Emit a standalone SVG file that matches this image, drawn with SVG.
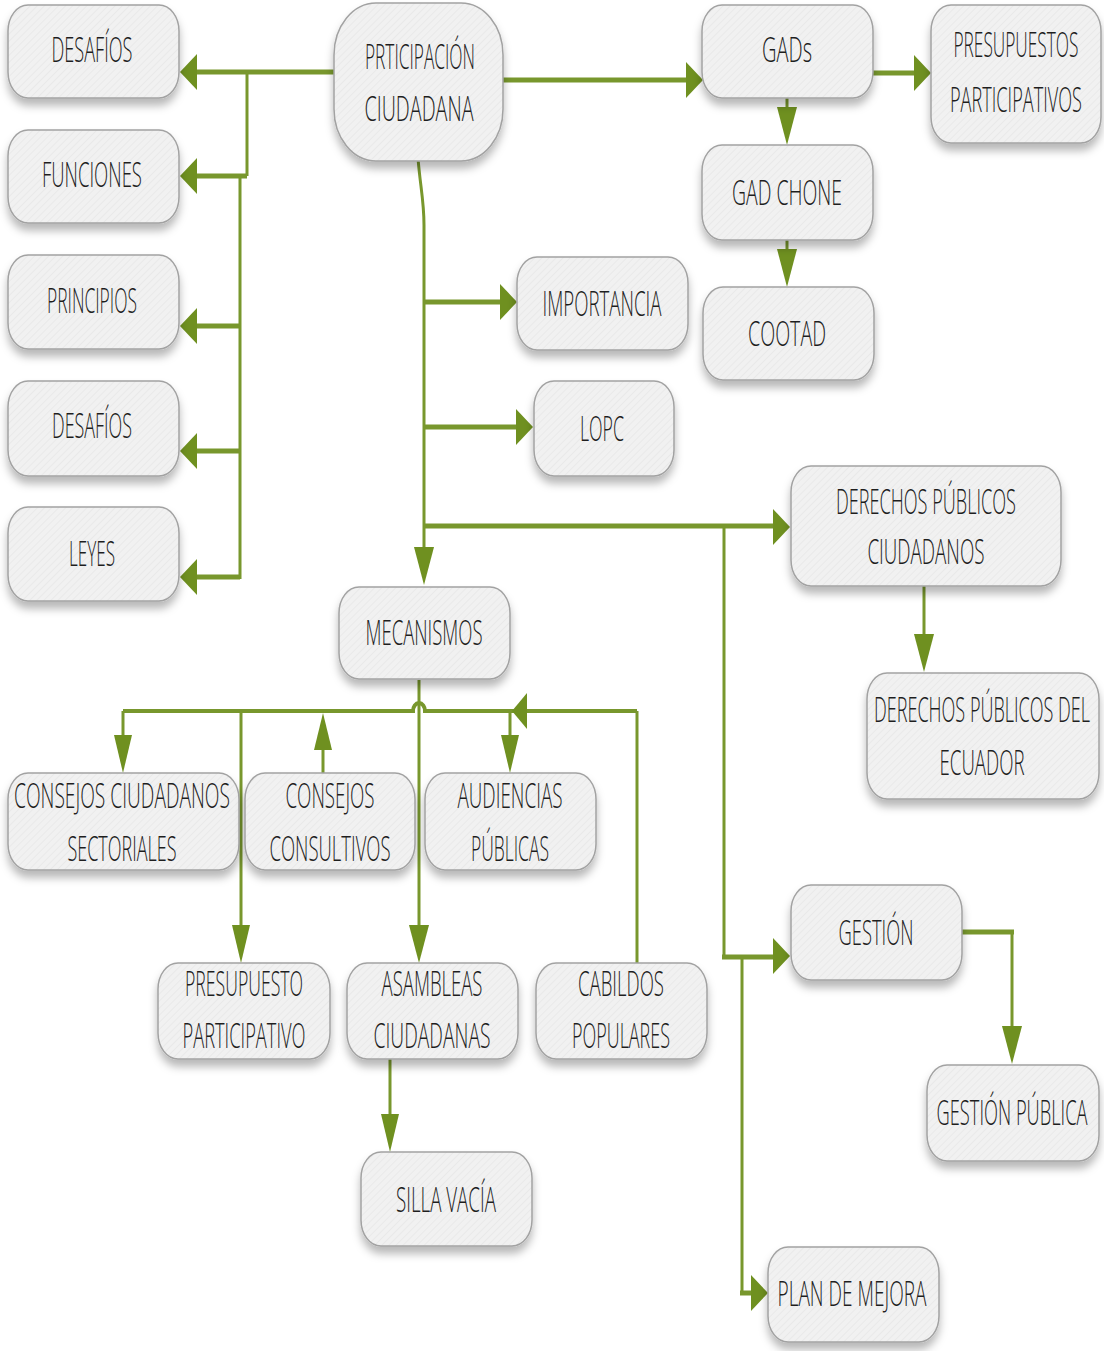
<svg xmlns="http://www.w3.org/2000/svg" width="1104" height="1351" viewBox="0 0 1104 1351">
<defs>
<pattern id="hatch" width="5" height="5" patternUnits="userSpaceOnUse" patternTransform="rotate(45)">
<rect width="5" height="5" fill="#f1f1f1"/>
<line x1="0" y1="0" x2="0" y2="5" stroke="#e5e5e5" stroke-width="1.2"/>
</pattern>
<filter id="sh" x="-10%" y="-10%" width="120%" height="140%">
<feDropShadow dx="0" dy="7" stdDeviation="4" flood-color="#000" flood-opacity="0.28"/>
</filter>
</defs>
<style>
.n rect{fill:url(#hatch);stroke:#a2a2a2;stroke-width:1.5;filter:url(#sh)}
.n text{font-family:"Open Sans","DejaVu Sans",sans-serif;font-weight:300;font-size:34px;fill:#1e1e1e;text-anchor:middle}
.c path{fill:none;stroke:#78972d;stroke-linejoin:miter}
.c .k{stroke-width:5}
.c .t{stroke-width:3}
.c polygon{fill:#6f9020}
</style>
<rect width="1104" height="1351" fill="#ffffff"/>

<g class="c" id="connectors">
<path class="k" d="M334,72 H194"/>
<path class="t" d="M247,72 V176"/>
<path class="k" d="M247,176 H194"/>
<path class="t" d="M240,176 V579"/>
<path class="k" d="M240,326 H194"/>
<path class="k" d="M240,451 H194"/>
<path class="k" d="M240,577 H194"/>
<polygon points="180,72 197,54 197,90"/>
<polygon points="180,176 197,158 197,194"/>
<polygon points="180,326 197,308 197,344"/>
<polygon points="180,451 197,433 197,469"/>
<polygon points="180,577 197,559 197,595"/>

<path class="k" d="M503,80 H688"/>
<polygon points="703,80 686,62 686,98"/>
<path class="k" d="M873,73 H916"/>
<polygon points="931,73 914,55 914,91"/>
<path class="t" d="M787,98 V109"/>
<polygon points="787,145 777,107 797,107"/>
<path class="t" d="M787,240 V251"/>
<polygon points="787,287 777,249 797,249"/>

<path class="t" d="M418,158 C420,185 424,200 424,225 V549"/>
<polygon points="424,585 414,547 434,547"/>
<path class="k" d="M424,302 H502"/>
<polygon points="517,302 500,284 500,320"/>
<path class="k" d="M424,427 H518"/>
<polygon points="533,427 516,409 516,445"/>
<path class="k" d="M424,526 H775"/>
<polygon points="790,527 773,509 773,545"/>

<path class="t" d="M924,586 V636"/>
<polygon points="924,672 914,634 934,634"/>

<path class="t" d="M724,526 V957"/>
<path class="k" d="M722,957 H775"/>
<polygon points="790,956 773,938 773,974"/>
<path class="t" d="M742,957 V1293"/>
<path class="k" d="M740,1293 H753"/>
<polygon points="768,1293 751,1275 751,1311"/>

<path class="k" d="M962,932 H1014"/>
<path class="t" d="M1012,932 V1028"/>
<polygon points="1012,1064 1002,1026 1022,1026"/>

<path class="t" d="M419,680 V927"/>
<polygon points="419,963 409,925 429,925"/>
<path class="k" d="M123,711 H413 A6,8 0 0 1 425,711 H637" style="stroke-width:4"/>
<path class="t" d="M123,711 V737"/>
<polygon points="123,773 114,735 132,735"/>
<path class="t" d="M241,711 V927"/>
<polygon points="241,963 232,925 250,925"/>
<path class="t" d="M323,773 V748"/>
<polygon points="323,713 314,750 332,750"/>
<path class="t" d="M510,711 V737"/>
<polygon points="510,773 501,735 519,735"/>
<path class="t" d="M637,963 V711"/>
<polygon points="512,711 527,693 527,729"/>
<path class="t" d="M390,1058 V1116"/>
<polygon points="390,1152 381,1114 399,1114"/>
</g>

<g class="n" id="n-desafios1"><rect x="8" y="5" width="171" height="93" rx="20" ry="26"/><text transform="scale(0.6,1)" x="153.3" y="62" textLength="135" lengthAdjust="spacingAndGlyphs">DESAFÍOS</text></g>
<g class="n" id="n-funciones"><rect x="8" y="130" width="171" height="93" rx="20" ry="26"/><text transform="scale(0.6,1)" x="153.3" y="187" textLength="166.7" lengthAdjust="spacingAndGlyphs">FUNCIONES</text></g>
<g class="n" id="n-principios"><rect x="8" y="255" width="171" height="94" rx="20" ry="26"/><text transform="scale(0.6,1)" x="153.3" y="313" textLength="150" lengthAdjust="spacingAndGlyphs">PRINCIPIOS</text></g>
<g class="n" id="n-desafios2"><rect x="8" y="381" width="171" height="95" rx="20" ry="26"/><text transform="scale(0.6,1)" x="153.3" y="438" textLength="133.3" lengthAdjust="spacingAndGlyphs">DESAFÍOS</text></g>
<g class="n" id="n-leyes"><rect x="8" y="507" width="171" height="94" rx="20" ry="26"/><text transform="scale(0.6,1)" x="153.3" y="566" textLength="76.7" lengthAdjust="spacingAndGlyphs">LEYES</text></g>

<g class="n" id="n-participacion"><rect x="334" y="3" width="169" height="158" rx="42" ry="52"/><text transform="scale(0.6,1)" x="700" y="69" textLength="183.3" lengthAdjust="spacingAndGlyphs">PRTICIPACIÓN</text><text transform="scale(0.6,1)" x="698.3" y="121" textLength="181.7" lengthAdjust="spacingAndGlyphs">CIUDADANA</text></g>

<g class="n" id="n-gads"><rect x="702" y="5" width="171" height="93" rx="20" ry="26"/><text transform="scale(0.6,1)" x="1311.7" y="62" textLength="83.3" lengthAdjust="spacingAndGlyphs">GADs</text></g>
<g class="n" id="n-presupuestos"><rect x="931" y="5" width="170" height="138" rx="20" ry="26"/><text transform="scale(0.6,1)" x="1693.3" y="57" textLength="208.3" lengthAdjust="spacingAndGlyphs">PRESUPUESTOS</text><text transform="scale(0.6,1)" x="1693.3" y="112" textLength="220" lengthAdjust="spacingAndGlyphs">PARTICIPATIVOS</text></g>
<g class="n" id="n-gadchone"><rect x="702" y="145" width="171" height="95" rx="20" ry="26"/><text transform="scale(0.6,1)" x="1311.7" y="205" textLength="183.3" lengthAdjust="spacingAndGlyphs">GAD CHONE</text></g>
<g class="n" id="n-cootad"><rect x="703" y="287" width="171" height="93" rx="20" ry="26"/><text transform="scale(0.6,1)" x="1311.7" y="346" textLength="130" lengthAdjust="spacingAndGlyphs">COOTAD</text></g>

<g class="n" id="n-importancia"><rect x="517" y="257" width="171" height="93" rx="20" ry="26"/><text transform="scale(0.6,1)" x="1003.3" y="316" textLength="198.3" lengthAdjust="spacingAndGlyphs">IMPORTANCIA</text></g>
<g class="n" id="n-lopc"><rect x="534" y="381" width="140" height="95" rx="20" ry="26"/><text transform="scale(0.6,1)" x="1003.3" y="441" textLength="73.3" lengthAdjust="spacingAndGlyphs">LOPC</text></g>

<g class="n" id="n-derechos-ciud"><rect x="791" y="466" width="270" height="120" rx="20" ry="26"/><text transform="scale(0.6,1)" x="1543.3" y="514" textLength="300" lengthAdjust="spacingAndGlyphs">DERECHOS PÚBLICOS</text><text transform="scale(0.6,1)" x="1543.3" y="564" textLength="195" lengthAdjust="spacingAndGlyphs">CIUDADANOS</text></g>
<g class="n" id="n-derechos-ecuador"><rect x="867" y="673" width="232" height="126" rx="20" ry="26"/><text transform="scale(0.5,1)" x="1964" y="722" textLength="432" lengthAdjust="spacingAndGlyphs">DERECHOS PÚBLICOS DEL</text><text transform="scale(0.6,1)" x="1636.7" y="775" textLength="141.7" lengthAdjust="spacingAndGlyphs">ECUADOR</text></g>

<g class="n" id="n-mecanismos"><rect x="339" y="587" width="171" height="92" rx="20" ry="26"/><text transform="scale(0.6,1)" x="706.7" y="645" textLength="195" lengthAdjust="spacingAndGlyphs">MECANISMOS</text></g>

<g class="n" id="n-consejos-ciud"><rect x="8" y="773" width="231" height="97" rx="20" ry="26"/><text transform="scale(0.6,1)" x="203.3" y="808" textLength="360" lengthAdjust="spacingAndGlyphs">CONSEJOS CIUDADANOS</text><text transform="scale(0.6,1)" x="203.3" y="861" textLength="181.7" lengthAdjust="spacingAndGlyphs">SECTORIALES</text></g>
<g class="n" id="n-consejos-cons"><rect x="245" y="773" width="170" height="97" rx="20" ry="26"/><text transform="scale(0.6,1)" x="550" y="808" textLength="148.3" lengthAdjust="spacingAndGlyphs">CONSEJOS</text><text transform="scale(0.6,1)" x="550" y="861" textLength="201.7" lengthAdjust="spacingAndGlyphs">CONSULTIVOS</text></g>
<g class="n" id="n-audiencias"><rect x="425" y="773" width="171" height="97" rx="20" ry="26"/><text transform="scale(0.6,1)" x="850" y="808" textLength="175" lengthAdjust="spacingAndGlyphs">AUDIENCIAS</text><text transform="scale(0.6,1)" x="850" y="861" textLength="130" lengthAdjust="spacingAndGlyphs">PÚBLICAS</text></g>

<g class="n" id="n-presupuesto"><rect x="158" y="963" width="172" height="96" rx="20" ry="26"/><text transform="scale(0.6,1)" x="406.7" y="996" textLength="196.7" lengthAdjust="spacingAndGlyphs">PRESUPUESTO</text><text transform="scale(0.6,1)" x="406.7" y="1048" textLength="205" lengthAdjust="spacingAndGlyphs">PARTICIPATIVO</text></g>
<g class="n" id="n-asambleas"><rect x="347" y="963" width="171" height="96" rx="20" ry="26"/><text transform="scale(0.6,1)" x="720" y="996" textLength="168.3" lengthAdjust="spacingAndGlyphs">ASAMBLEAS</text><text transform="scale(0.6,1)" x="720" y="1048" textLength="195" lengthAdjust="spacingAndGlyphs">CIUDADANAS</text></g>
<g class="n" id="n-cabildos"><rect x="536" y="963" width="171" height="96" rx="20" ry="26"/><text transform="scale(0.6,1)" x="1035" y="996" textLength="143.3" lengthAdjust="spacingAndGlyphs">CABILDOS</text><text transform="scale(0.6,1)" x="1035" y="1048" textLength="163.3" lengthAdjust="spacingAndGlyphs">POPULARES</text></g>
<g class="n" id="n-silla"><rect x="361" y="1152" width="171" height="94" rx="20" ry="26"/><text transform="scale(0.6,1)" x="743.3" y="1212" textLength="166.7" lengthAdjust="spacingAndGlyphs">SILLA VACÍA</text></g>

<g class="n" id="n-gestion"><rect x="791" y="885" width="171" height="95" rx="20" ry="26"/><text transform="scale(0.6,1)" x="1460" y="945" textLength="125" lengthAdjust="spacingAndGlyphs">GESTIÓN</text></g>
<g class="n" id="n-gestion-publica"><rect x="927" y="1065" width="172" height="96" rx="20" ry="26"/><text transform="scale(0.6,1)" x="1686.7" y="1125" textLength="251.7" lengthAdjust="spacingAndGlyphs">GESTIÓN PÚBLICA</text></g>
<g class="n" id="n-plan"><rect x="768" y="1247" width="171" height="95" rx="20" ry="26"/><text transform="scale(0.6,1)" x="1420" y="1306" textLength="248.3" lengthAdjust="spacingAndGlyphs">PLAN DE MEJORA</text></g>
</svg>
